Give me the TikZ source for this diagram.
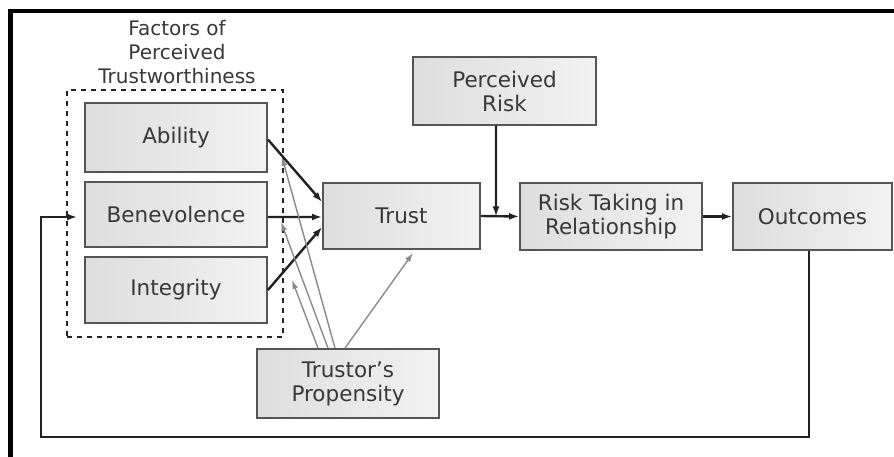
\documentclass[tikz,border=0pt]{standalone}
\usepackage{fontspec}
\setmainfont{DejaVu Sans}
\usetikzlibrary{arrows.meta}
\definecolor{txt}{HTML}{383838}
\definecolor{bord}{HTML}{555555}
\definecolor{arr}{HTML}{222222}
\definecolor{garr}{HTML}{8A8A8A}
\tikzset{
  box/.style={draw=bord, line width=1.8bp, rectangle, left color=black!13, right color=black!5,
    text=txt, align=center, inner sep=0pt, font=\fontsize{21.5bp}{24bp}\selectfont},
  blk/.style={draw=arr, line width=2.4bp, -{Latex[length=10bp,width=7bp]}},
  gry/.style={draw=garr, line width=1.4bp, -{Latex[length=9bp,width=6bp]}},
}
\begin{document}
\begin{tikzpicture}[x=1bp,y=-1bp]
\path[fill=white,use as bounding box] (0,0) rectangle (894,457);
% frame
\draw[line width=4bp,black] (8,11) -- (894,11);
\draw[line width=5bp,black] (10.5,9) -- (10.5,457);
% title
\node[text=txt, align=center, font=\fontsize{20bp}{24bp}\selectfont] (title) at (177,52) {Factors of\\Perceived\\Trustworthiness};
% dashed group
\node[draw=arr, line width=1.8bp, dash pattern=on 5bp off 5bp, minimum width=216bp, minimum height=247bp, inner sep=0pt] (grp) at (175,213.5) {};
% boxes
\node[box, minimum width=182bp, minimum height=69bp] (A) at (176,137.5) {Ability};
\node[box, minimum width=182bp, minimum height=65bp] (B) at (176,214.5) {Benevolence};
\node[box, minimum width=182bp, minimum height=66bp] (I) at (176,290) {Integrity};
\node[box, minimum width=157bp, minimum height=66bp] (T) at (401.5,216) {Trust};
\node[box, minimum width=183bp, minimum height=68bp] (PR) at (504.5,91) {Perceived\\Risk};
\node[box, minimum width=182bp, minimum height=67bp] (R) at (611,216.5) {Risk Taking in\\Relationship};
\node[box, minimum width=159bp, minimum height=67bp] (O) at (812.5,216.5) {Outcomes};
\node[box, minimum width=182bp, minimum height=69bp] (P) at (348,383.5) {Trustor’s\\Propensity};
% coordinates
\coordinate (j) at (496,216.5);
\coordinate (lb) at (41,437);
\coordinate (fb) at (77,217);
\coordinate (g1) at (292,280);
\coordinate (g2) at (281,222);
\coordinate (g3) at (282,157);
\coordinate (g4) at (413,253);
% black arrows
\draw[blk] ([yshift=-2bp]A.east) -- ([yshift=14bp]T.west);
\draw[blk] ([yshift=-2.5bp]B.east) -- ([yshift=-1bp]T.west);
\draw[blk] (I.east) -- ([yshift=-11bp]T.west);
\draw[blk] (T.east) -- (R.west);
\draw[blk] ([xshift=-8.5bp]PR.south) -- (j);
\draw[blk] (R.east) -- (O.west);
\draw[blk] ([xshift=-3.5bp]O.south) |- (lb) |- (fb);
% gray arrows
\draw[gry] ([xshift=-30bp]P.north) -- (g1);
\draw[gry] ([xshift=-20bp]P.north) -- (g2);
\draw[gry] ([xshift=-13bp]P.north) -- (g3);
\draw[gry] ([xshift=-3bp]P.north) -- (g4);
\end{tikzpicture}
\end{document}
